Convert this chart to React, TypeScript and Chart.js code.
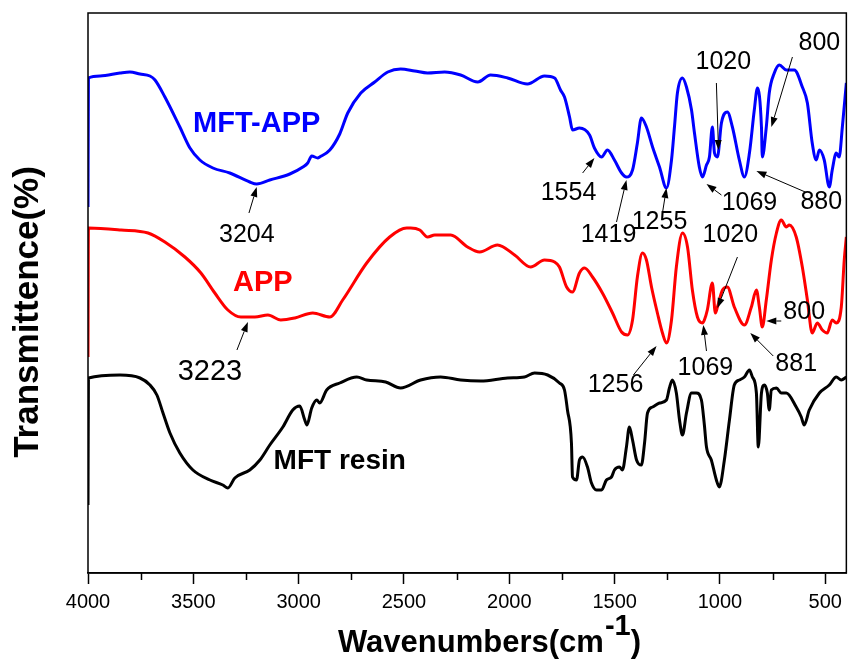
import React, { useEffect, useRef } from "react";
import { Chart, registerables } from "chart.js";

Chart.register(...registerables);

// ---- axis ----
const X_MIN = 400;
const X_MAX = 4000;
const Y_MIN = 0;
const Y_MAX = 560;
const majorTicks = [4000, 3500, 3000, 2500, 2000, 1500, 1000, 500];
const minorTicks = [3750, 3250, 2750, 2250, 1750, 1250, 750];

// ---- MFT-APP (blue) ----
const mftAppWn = [4000, 3998, 3943, 3848, 3801, 3753, 3706, 3682, 3635, 3564, 3516, 3469, 3407, 3327, 3232, 3199, 3137, 3042, 2980, 2957, 2938, 2909, 2900, 2852, 2805, 2767, 2705, 2639, 2577, 2516, 2449, 2388, 2307, 2231, 2150, 2089, 2008, 1914, 1833, 1785, 1757, 1738, 1714, 1700, 1667, 1619, 1596, 1562, 1534, 1501, 1467, 1444, 1415, 1392, 1373, 1349, 1320, 1287, 1254, 1230, 1216, 1202, 1178, 1159, 1135, 1121, 1098, 1083, 1064, 1050, 1036, 1026, 1012, 993, 965, 941, 908, 884, 860, 837, 822, 803, 799, 780, 766, 742, 718, 685, 647, 609, 585, 562, 543, 528, 505, 481, 467, 448, 434, 419, 400];
const mftAppT = [366, 495, 497, 500, 501, 499, 497, 493, 476, 446, 425, 413, 405, 400, 391, 389, 393, 399, 406, 410, 417, 415, 416, 423, 439, 460, 480, 491, 501, 504, 502, 500, 501, 498, 491, 498, 495, 489, 497, 495, 483, 476, 456, 443, 445, 438, 425, 416, 423, 413, 400, 396, 403, 430, 455, 446, 426, 406, 385, 413, 446, 480, 495, 486, 463, 440, 406, 396, 408, 416, 446, 420, 416, 450, 461, 446, 413, 396, 420, 463, 485, 446, 416, 446, 480, 500, 508, 503, 503, 486, 470, 430, 413, 423, 413, 386, 403, 420, 416, 446, 490];

// ---- APP (red) ----
const appWn = [4000, 3998, 3843, 3715, 3635, 3540, 3464, 3398, 3336, 3274, 3208, 3146, 3085, 3018, 2933, 2852, 2791, 2677, 2568, 2487, 2468, 2425, 2388, 2354, 2278, 2198, 2141, 2056, 1975, 1899, 1833, 1785, 1762, 1728, 1700, 1667, 1643, 1605, 1558, 1510, 1467, 1439, 1415, 1392, 1368, 1349, 1325, 1297, 1273, 1254, 1230, 1207, 1178, 1154, 1131, 1107, 1083, 1074, 1060, 1036, 1022, 1012, 988, 965, 932, 884, 851, 827, 813, 799, 780, 756, 732, 709, 685, 671, 638, 609, 585, 562, 538, 514, 491, 467, 448, 424, 410, 400];
const appT = [216, 345, 343, 340, 331, 316, 300, 280, 263, 256, 256, 258, 253, 255, 260, 256, 273, 310, 336, 345, 345, 343, 336, 338, 338, 326, 321, 328, 318, 306, 313, 311, 306, 286, 281, 300, 305, 296, 280, 260, 241, 238, 253, 296, 320, 313, 286, 260, 240, 230, 253, 306, 340, 326, 283, 256, 250, 253, 263, 290, 260, 266, 283, 286, 266, 248, 266, 283, 266, 246, 273, 313, 340, 353, 346, 348, 336, 306, 273, 240, 250, 243, 240, 253, 250, 266, 313, 336];

// ---- MFT resin (black) ----
const resinWn = [4000, 3998, 3848, 3753, 3706, 3673, 3644, 3611, 3564, 3502, 3421, 3360, 3336, 3303, 3232, 3184, 3137, 3075, 3028, 2995, 2971, 2961, 2938, 2914, 2900, 2867, 2805, 2724, 2677, 2587, 2516, 2421, 2326, 2231, 2136, 2008, 1928, 1880, 1818, 1762, 1738, 1724, 1705, 1700, 1681, 1667, 1652, 1629, 1610, 1586, 1562, 1539, 1515, 1501, 1477, 1463, 1444, 1430, 1415, 1396, 1373, 1358, 1344, 1320, 1287, 1254, 1240, 1226, 1207, 1192, 1178, 1159, 1135, 1112, 1088, 1074, 1064, 1041, 1017, 1003, 979, 955, 932, 908, 884, 860, 846, 827, 818, 803, 789, 775, 766, 756, 732, 709, 685, 638, 614, 600, 576, 528, 481, 448, 424, 400];
const resinT = [68, 195, 198, 195, 188, 178, 160, 140, 120, 103, 93, 88, 85, 95, 103, 113, 128, 146, 163, 167, 153, 148, 165, 173, 170, 183, 190, 196, 193, 191, 185, 193, 196, 193, 192, 195, 196, 200, 198, 190, 183, 163, 130, 96, 93, 113, 116, 106, 90, 83, 83, 93, 96, 103, 106, 103, 126, 146, 133, 113, 108, 130, 160, 166, 170, 173, 185, 193, 180, 153, 138, 160, 180, 180, 173, 148, 126, 113, 93, 86, 113, 153, 188, 193, 196, 203, 196, 180, 126, 180, 188, 180, 163, 183, 185, 180, 180, 166, 156, 148, 163, 180, 188, 196, 193, 196];

// ---- annotation labels (placed in data units) ----
const labelText = ["MFT-APP", "APP", "MFT resin", "3204", "3223", "1554", "1419", "1255", "1069", "880", "1020", "800", "1020", "800", "1256", "1069", "881"];
const labelWn = [3199, 3170, 2805, 3246, 3421, 1719, 1529, 1287, 860, 519, 984, 528, 951, 600, 1496, 1069, 638];
const labelT = [449, 290, 112, 338, 201, 380, 338, 351, 370, 371, 511, 530, 338, 261, 188, 205, 209];
const labelColor = ["#0000ff", "#ff0000", "#000000", "#000", "#000", "#000", "#000", "#000", "#000", "#000", "#000", "#000", "#000", "#000", "#000", "#000", "#000"];
const labelBold = [true, true, true, false, false, false, false, false, false, false, false, false, false, false, false, false, false];
const labelSize = [29, 29, 28, 25, 29, 25, 25, 25, 25, 25, 25, 25, 25, 25, 25, 25, 25];

// ---- annotation arrows (from label -> to peak) ----
const arrowFromWn = [3236, 3293, 1652, 1491, 1273, 993, 595, 1017, 656, 917, 709, 1411, 1064, 747];
const arrowFromT = [360, 223, 400, 351, 360, 378, 381, 490, 516, 316, 252, 198, 222, 217];
const arrowToWn = [3199, 3241, 1596, 1444, 1254, 1064, 827, 1007, 756, 1012, 780, 1301, 1079, 856];
const arrowToT = [386, 251, 415, 393, 385, 389, 402, 423, 446, 265, 252, 227, 248, 240];

const FONT = "'Liberation Sans', Arial, Helvetica, sans-serif";

function zip(w: number[], t: number[]) {
  return w.map((x, i) => ({ x, y: t[i] }));
}

export default function App() {
  const ref = useRef<HTMLCanvasElement | null>(null);

  useEffect(() => {
    if (!ref.current) return;

    const overlay = {
      id: "overlay",
      afterDraw(chart: any) {
        const ctx = chart.ctx as CanvasRenderingContext2D;
        const xs = chart.scales.x;
        const ys = chart.scales.y;
        const a = chart.chartArea;
        ctx.save();

        // frame
        ctx.strokeStyle = "#000";
        ctx.lineWidth = 1.5;
        ctx.strokeRect(a.left, a.top, a.right - a.left, a.bottom - a.top);

        // minor ticks
        ctx.lineWidth = 1.5;
        minorTicks.forEach((v) => {
          const px = Math.round(xs.getPixelForValue(v)) + 0.5;
          ctx.beginPath();
          ctx.moveTo(px, a.bottom);
          ctx.lineTo(px, a.bottom + 7);
          ctx.stroke();
        });

        // arrows
        ctx.lineWidth = 1;
        ctx.fillStyle = "#000";
        for (let i = 0; i < arrowFromWn.length; i++) {
          const x1 = xs.getPixelForValue(arrowFromWn[i]);
          const y1 = ys.getPixelForValue(arrowFromT[i]);
          const x2 = xs.getPixelForValue(arrowToWn[i]);
          const y2 = ys.getPixelForValue(arrowToT[i]);
          const ang = Math.atan2(y2 - y1, x2 - x1);
          const hl = 10, hw = 3.5;
          const bx = x2 - hl * Math.cos(ang);
          const by = y2 - hl * Math.sin(ang);
          ctx.beginPath();
          ctx.moveTo(x1, y1);
          ctx.lineTo(bx, by);
          ctx.stroke();
          ctx.beginPath();
          ctx.moveTo(x2, y2);
          ctx.lineTo(bx + hw * Math.sin(ang), by - hw * Math.cos(ang));
          ctx.lineTo(bx - hw * Math.sin(ang), by + hw * Math.cos(ang));
          ctx.closePath();
          ctx.fill();
        }

        // labels
        ctx.textAlign = "center";
        ctx.textBaseline = "middle";
        for (let i = 0; i < labelText.length; i++) {
          ctx.font = `${labelBold[i] ? "bold " : ""}${labelSize[i]}px ${FONT}`;
          ctx.fillStyle = labelColor[i];
          ctx.fillText(labelText[i], xs.getPixelForValue(labelWn[i]), ys.getPixelForValue(labelT[i]));
        }

        // x axis title
        ctx.fillStyle = "#000";
        ctx.textAlign = "left";
        ctx.textBaseline = "alphabetic";
        ctx.font = `bold 31px ${FONT}`;
        const main = "Wavenumbers(cm";
        let tx = 338;
        ctx.fillText(main, tx, 652);
        tx += ctx.measureText(main).width;
        ctx.font = `bold 29px ${FONT}`;
        ctx.fillText("-1", tx + 1, 635);
        tx += ctx.measureText("-1").width + 1;
        ctx.font = `bold 31px ${FONT}`;
        ctx.fillText(")", tx, 652);

        // y axis title
        ctx.save();
        ctx.translate(38, 312);
        ctx.rotate(-Math.PI / 2);
        ctx.textAlign = "center";
        ctx.textBaseline = "alphabetic";
        ctx.font = `bold 35px ${FONT}`;
        ctx.fillText("Transmittence(%)", 0, 0);
        ctx.restore();

        ctx.restore();
      },
    };

    const common = {
      pointRadius: 0,
      borderWidth: 3,
      fill: false,
      cubicInterpolationMode: "monotone" as const,
    };

    const chart = new Chart(ref.current, {
      type: "line",
      data: {
        datasets: [
          { label: "MFT-APP", data: zip(mftAppWn, mftAppT), borderColor: "#0000ff", ...common },
          { label: "APP", data: zip(appWn, appT), borderColor: "#ff0000", ...common },
          { label: "MFT resin", data: zip(resinWn, resinT), borderColor: "#000000", ...common },
        ],
      },
      options: {
        animation: false,
        responsive: false,
        maintainAspectRatio: false,
        devicePixelRatio: 1,
        layout: { padding: { left: 88, top: 13, right: 1, bottom: 0 } },
        plugins: { legend: { display: false }, tooltip: { enabled: false } },
        scales: {
          x: {
            type: "linear",
            reverse: true,
            min: X_MIN,
            max: X_MAX,
            afterBuildTicks: (s: any) => {
              s.ticks = majorTicks.map((v) => ({ value: v }));
            },
            afterFit: (s: any) => {
              s.height = 93;
            },
            ticks: {
              font: { family: FONT, size: 20 },
              color: "#000",
              padding: 6,
              maxRotation: 0,
              autoSkip: false,
              callback: (v: any) => String(v),
            },
            grid: {
              drawOnChartArea: false,
              drawTicks: true,
              tickLength: 11,
              tickColor: "#000",
              tickWidth: 1.5,
            },
            border: { display: true, color: "#000", width: 1.5 },
          },
          y: { type: "linear", display: false, min: Y_MIN, max: Y_MAX },
        },
      },
      plugins: [overlay],
    } as any);

    return () => chart.destroy();
  }, []);

  return (
    <div style={{ position: "fixed", left: 0, top: 0, width: 848, height: 666, background: "#fff" }}>
      <canvas ref={ref} width={848} height={666} style={{ display: "block" }} />
    </div>
  );
}
